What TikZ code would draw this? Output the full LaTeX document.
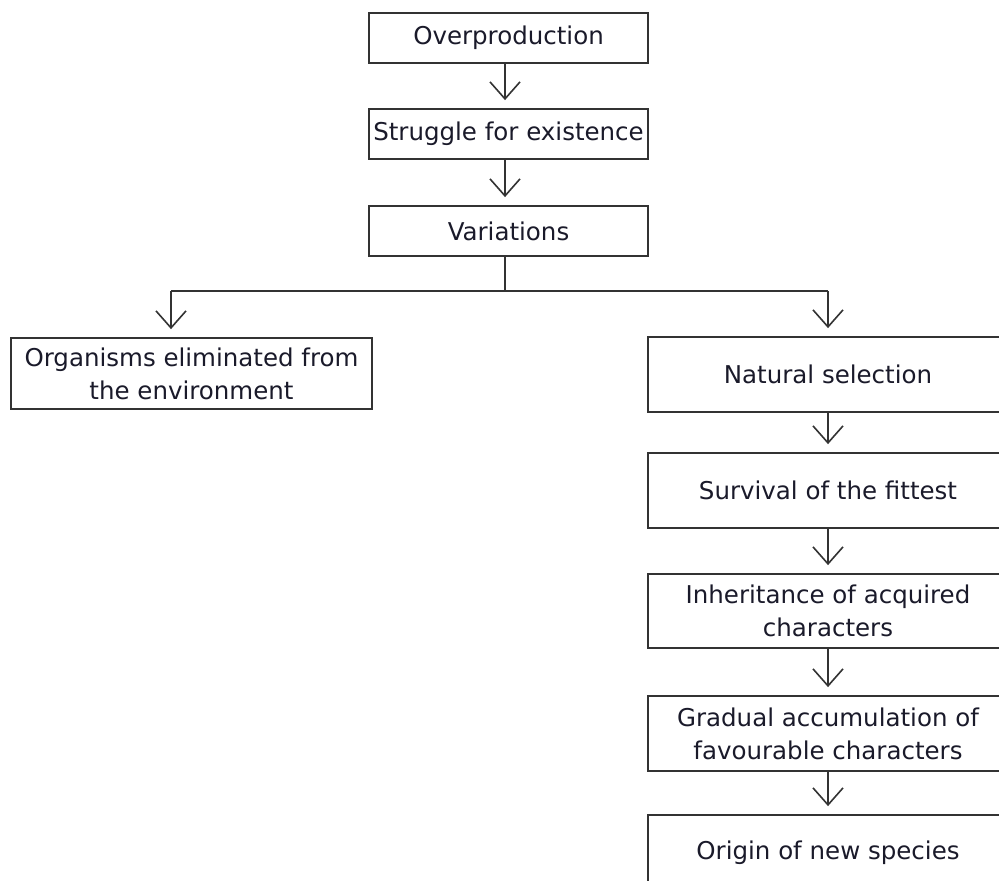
\documentclass[tikz,border=0pt]{standalone}
\usepackage{fontspec}
\setmainfont{DejaVu Sans}
\usetikzlibrary{arrows.meta}
\definecolor{linec}{HTML}{333333}
\definecolor{textc}{HTML}{1A1A2A}
\tikzset{
  box/.style={draw=linec, line width=1.8pt, fill=white, text=textc, align=center,
    inner sep=2pt, font=\fontsize{24.5}{33}\selectfont},
  arr/.style={draw=linec, line width=1.6pt,
    -{Straight Barb[length=17pt,width=30pt,line width=1.6pt]}, shorten >=8pt},
  ln/.style={draw=linec, line width=1.6pt}
}
\begin{document}
\begin{tikzpicture}[x=1pt,y=-1pt]
\useasboundingbox (0,0) rectangle (999,881);
\clip (0,0) rectangle (999,881);
\fill[white] (0,0) rectangle (999,881);
% top column
\node[box, minimum width=279pt, minimum height=50pt] (over)  at (508.5,38)  {Overproduction};
\node[box, minimum width=279pt, minimum height=50pt] (strug) at (508.5,134) {Struggle for existence};
\node[box, minimum width=279pt, minimum height=50pt] (vari)  at (508.5,231) {Variations};
% left branch
\node[box, minimum width=361pt, minimum height=71pt] (org) at (191.5,373.5) {Organisms eliminated from\\the environment};
% right column
\node[box, minimum width=360pt, minimum height=75pt] (nat)  at (828,374.5) {Natural selection};
\node[box, minimum width=360pt, minimum height=75pt] (surv) at (828,490.5) {Survival of the fittest};
\node[box, minimum width=360pt, minimum height=74pt] (inh)  at (828,611)   {Inheritance of acquired\\characters};
\node[box, minimum width=360pt, minimum height=75pt] (grad) at (828,733.5) {Gradual accumulation of\\favourable characters};
\node[box, minimum width=360pt, minimum height=75pt] (orig) at (828,852.5) {Origin of new species};
% branch coordinates
\coordinate (bm) at (505,291);
\coordinate (bl) at (171,291);
\coordinate (br) at (828,291);
% connectors
\draw[arr] ([xshift=-3.5pt]over.south) -- ([xshift=-3.5pt]strug.north);
\draw[arr] ([xshift=-3.5pt]strug.south) -- ([xshift=-3.5pt]vari.north);
\draw[ln] ([xshift=-3.5pt]vari.south) -- (bm);
\draw[ln] (bl) -- (br);
\draw[arr] (bl) -- (org.north -| bl);
\draw[arr] (br) -- (nat.north);
\draw[arr] (nat.south) -- (surv.north);
\draw[arr] (surv.south) -- (inh.north);
\draw[arr] (inh.south) -- (grad.north);
\draw[arr] (grad.south) -- (orig.north);
\end{tikzpicture}
\end{document}
